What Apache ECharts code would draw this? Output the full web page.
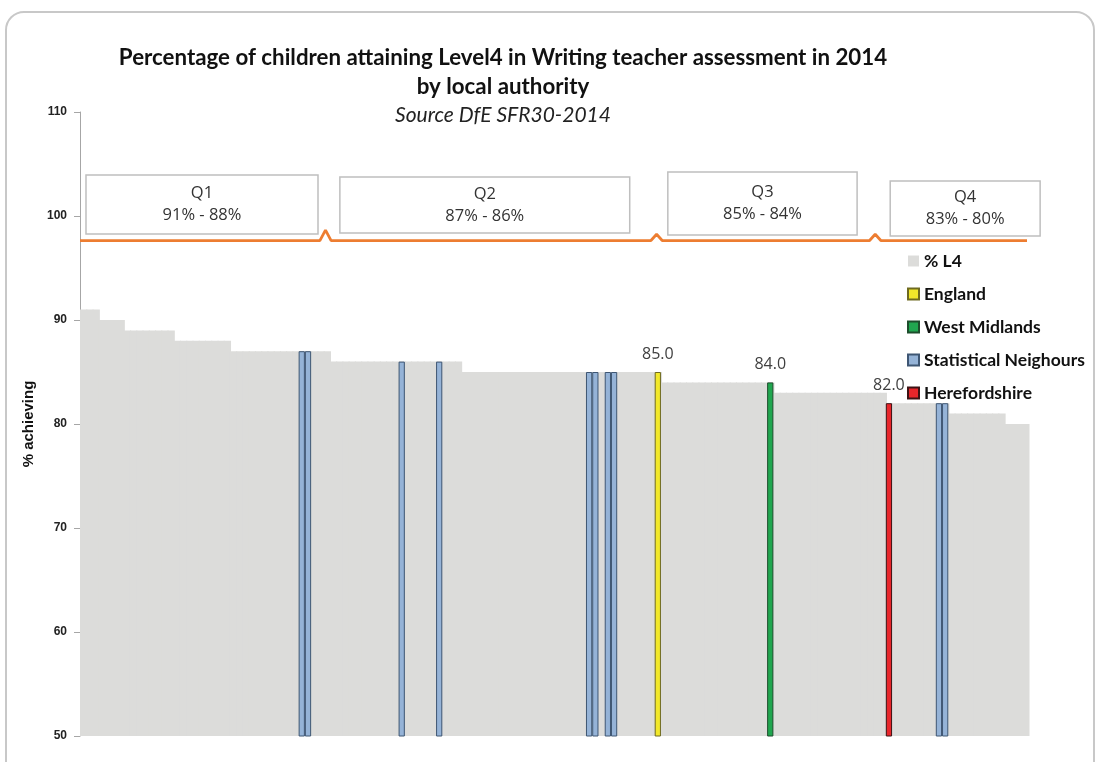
<!DOCTYPE html>
<html>
<head>
<meta charset="utf-8">
<title>Level 4 Writing TA 2014 by local authority</title>
<script src="https://cdn.jsdelivr.net/npm/echarts@6/dist/echarts.min.js"></script>
<style>
  html, body { margin: 0; padding: 0; background: #fff; }
  #chart { width: 1101px; height: 762px; }
</style>
</head>
<body>
<div id="chart"></div>
<script>
// % L4 for every local authority, ranked high to low
const pctL4 = [
  91, 91, 91,
  90, 90, 90, 90,
  89, 89, 89, 89, 89, 89, 89, 89,
  88, 88, 88, 88, 88, 88, 88, 88, 88,
  87, 87, 87, 87, 87, 87, 87, 87, 87, 87, 87, 87, 87, 87, 87, 87,
  86, 86, 86, 86, 86, 86, 86, 86, 86, 86,
  86, 86, 86, 86, 86, 86, 86, 86, 86, 86, 86,
  85, 85, 85, 85, 85, 85, 85, 85,
  85, 85, 85, 85, 85, 85, 85, 85,
  85, 85, 85, 85, 85, 85, 85, 85,
  85, 85, 85, 85, 85, 85, 85, 85,
  84, 84, 84, 84, 84, 84, 84, 84, 84,
  84, 84, 84, 84, 84, 84, 84, 84, 84,
  83, 83, 83, 83, 83, 83, 83, 83, 83,
  83, 83, 83, 83, 83, 83, 83, 83, 83,
  82, 82, 82, 82, 82, 82, 82, 82, 82, 82,
  81, 81, 81, 81, 81, 81, 81, 81, 81,
  80, 80, 80, 80
];
const authorities = pctL4.map((v, i) => 'LA ' + (i + 1));

// highlighted authorities: rank position and value
const neighbourRank = [35, 36, 51, 57, 81, 82, 84, 85, 137, 138];
const neighbourValue = [87, 87, 86, 86, 85, 85, 85, 85, 82, 82];
const englandRank = [92];
const englandValue = [85.0];
const westMidRank = [110];
const westMidValue = [84.0];
const herefordRank = [129];
const herefordValue = [82.0];

const quartileNames = ['Q1', 'Q2', 'Q3', 'Q4'];
const quartileRanges = ['91% - 88%', '87% - 86%', '85% - 84%', '83% - 80%'];

// layout of the quartile boxes / divider, in rank units on the overlay axis
const boxX = [[0.96, 38.1], [41.6, 88.0], [94.1, 124.4], [129.7, 153.7]];
const boxY = [[98.27, 103.94], [98.37, 103.75], [98.17, 104.23], [98.08, 103.37]];
const dividerY = 97.64;
const dividerEnd = 151.6;
const caretAt = [39.3, 92.3, 127.3];
const caretTop = [98.65, 98.24, 98.24];
const caretHalf = 0.9;

const pairs = (ranks, vals) => ranks.map((r, i) => [r, vals[i]]);

let divider = [[0, dividerY]];
caretAt.forEach((c, i) => {
  divider.push([c - caretHalf, dividerY], [c, caretTop[i]], [c + caretHalf, dividerY]);
});
divider.push([dividerEnd, dividerY]);

const boxes = quartileNames.map((q, i) => [
  { name: q + '\n' + quartileRanges[i], xAxis: boxX[i][0], yAxis: boxY[i][1] },
  { xAxis: boxX[i][1], yAxis: boxY[i][0] }
]);

const valueLabel = {
  show: true,
  position: 'top',
  distance: 10,
  color: '#404040',
  fontFamily: 'Open Sans',
  fontSize: 16,
  formatter: p => p.value[1].toFixed(1)
};

const colourBar = (name, data, fill, edge, label) => ({
  name: name,
  type: 'bar',
  data: data,
  barWidth: '100%',
  barGap: '-100%',
  itemStyle: { color: fill, borderColor: edge, borderWidth: 1 },
  label: label ? valueLabel : { show: false },
  z: 3
});

const chart = echarts.init(document.getElementById('chart'));

chart.setOption({
  animation: false,
  title: {
    text: 'Percentage of children attaining Level4 in Writing teacher assessment in 2014\nby local authority',
    subtext: 'Source DfE SFR30-2014',
    left: 498,
    top: 38,
    textAlign: 'center',
    itemGap: 4,
    textStyle: { fontFamily: 'Lato', fontWeight: 'bold', fontSize: 22.3, lineHeight: 29, color: '#111' },
    subtextStyle: { fontFamily: 'Lato', fontStyle: 'italic', fontSize: 21, color: '#222' }
  },
  graphic: [{
    type: 'rect',
    shape: { x: 6, y: 12, width: 1088, height: 800, r: 18 },
    style: { fill: 'none', stroke: '#c8c8c8', lineWidth: 2 },
    silent: true,
    z: -1
  }],
  legend: {
    orient: 'vertical',
    left: 902,
    top: 247,
    itemWidth: 11,
    itemHeight: 11,
    itemGap: 15,
    icon: 'rect',
    textStyle: { fontFamily: 'Lato', fontWeight: 'bold', fontSize: 17.5, lineHeight: 17, color: '#111' },
    data: ['% L4', 'England', 'West Midlands', 'Statistical Neighours', 'Herefordshire']
  },
  grid: [
    { left: 80, right: 71.5, top: 112, bottom: 26 },
    { left: 80, width: 962, top: 112, bottom: 26 }
  ],
  xAxis: [
    {
      type: 'category',
      gridIndex: 0,
      data: authorities,
      axisLine: { show: false },
      axisTick: { show: false },
      axisLabel: { show: false }
    },
    {
      type: 'value',
      gridIndex: 1,
      min: 0,
      max: 154,
      show: false
    }
  ],
  yAxis: [
    {
      type: 'value',
      gridIndex: 0,
      min: 50,
      max: 110,
      interval: 10,
      name: '% achieving',
      nameLocation: 'middle',
      nameGap: 43,
      nameTextStyle: { fontFamily: 'Liberation Sans', fontWeight: 'bold', fontSize: 15, color: '#111' },
      axisLine: { show: true, lineStyle: { color: '#a6a6a6' } },
      axisTick: { show: true, length: 6, lineStyle: { color: '#a6a6a6' } },
      axisLabel: { fontFamily: 'Liberation Sans', fontWeight: 'bold', fontSize: 12, color: '#222', margin: 13 },
      splitLine: { show: false }
    },
    {
      type: 'value',
      gridIndex: 1,
      min: 50,
      max: 110,
      show: false
    }
  ],
  series: [
    {
      name: '% L4',
      type: 'bar',
      data: pctL4,
      // slightly overlapping so neighbouring bars read as one stepped block
      barWidth: '118%',
      barGap: '-100%',
      itemStyle: { color: '#dcdcda' },
      z: 2
    },
    colourBar('Statistical Neighours', pairs(neighbourRank, neighbourValue), '#95b3d7', '#3e5673', false),
    colourBar('England', pairs(englandRank, englandValue), '#f2e82a', '#6e6a20', true),
    colourBar('West Midlands', pairs(westMidRank, westMidValue), '#20a64f', '#1d4d2c', true),
    colourBar('Herefordshire', pairs(herefordRank, herefordValue), '#e8262b', '#3c1214', true),
    {
      name: 'divider',
      type: 'line',
      xAxisIndex: 1,
      yAxisIndex: 1,
      data: divider,
      symbol: 'none',
      silent: true,
      lineStyle: { color: '#ed7d31', width: 2.8 },
      markArea: {
        silent: true,
        itemStyle: { color: '#fff', borderColor: '#bfbfbf', borderWidth: 1.5 },
        label: {
          show: true,
          position: 'inside',
          fontFamily: 'Open Sans',
          fontSize: 16.5,
          lineHeight: 22,
          color: '#333'
        },
        data: boxes
      },
      z: 4
    }
  ]
});
</script>
</body>
</html>
